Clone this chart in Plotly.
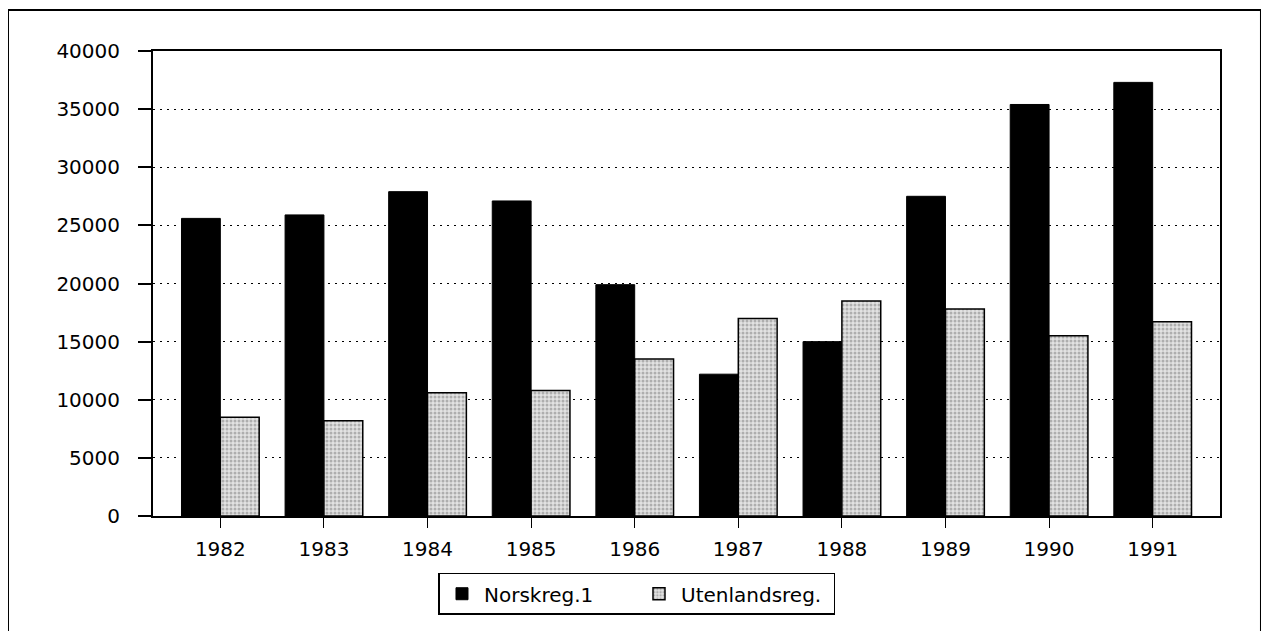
import plotly.graph_objects as go

# --- Data ---
years = ["1982", "1983", "1984", "1985", "1986", "1987", "1988", "1989", "1990", "1991"]
norsk = [25600, 25900, 27900, 27100, 19900, 12200, 15000, 27500, 35400, 37300]
utenlands = [8500, 8200, 10600, 10800, 13500, 17000, 18500, 17800, 15500, 16700]
y_ticks = [0, 5000, 10000, 15000, 20000, 25000, 30000, 35000, 40000]

FONT = dict(family="DejaVu Sans", size=20, color="black")

fig = go.Figure()
fig.add_trace(go.Bar(x=years, y=norsk, name="Norskreg.1",
                     marker=dict(color="black", line=dict(color="black", width=1))))
fig.add_trace(go.Bar(x=years, y=utenlands, name="Utenlandsreg.",
                     marker=dict(color="#cccccc", line=dict(color="black", width=1.5),
                                 pattern=dict(shape=".", fgcolor="#7a7a7a", bgcolor="#e2e2e2",
                                              size=4, solidity=0.45))))

# page body has an 8px margin, so the margins are shifted by 8px
fig.update_layout(
    width=1269, height=631,
    margin=dict(l=145, r=57, t=43, b=123),
    paper_bgcolor="white", plot_bgcolor="white",
    font=FONT,
    barmode="group", bargap=0.25, bargroupgap=0,
    showlegend=True,
    legend=dict(orientation="h", x=0.4536, xanchor="center", y=-0.122, yanchor="top",
                bordercolor="black", borderwidth=1.5, font=FONT,
                itemwidth=34, entrywidth=148, tracegroupgap=0),
    xaxis=dict(type="category", range=[-0.65, 9.65], showline=True, linecolor="black",
               linewidth=2, mirror=True, ticks="outside", ticklen=10, tickwidth=1,
               tickcolor="black", showgrid=False, ticklabelstandoff=4),
    yaxis=dict(range=[0, 40000], tickvals=y_ticks, tickformat="d", showline=True,
               linecolor="black", linewidth=2, mirror=True, ticks="outside", ticklen=13,
               tickwidth=1.5, tickcolor="black", showgrid=True, gridcolor="black",
               gridwidth=1.2, griddash="2px,5px", zeroline=False, ticklabelstandoff=14),
    shapes=[dict(type="rect", xref="paper", yref="paper",
                 x0=-0.1359, x1=1.0384, y0=-0.27, y1=1.0882,
                 line=dict(color="black", width=2))],
)

fig.write_html("out.html")
